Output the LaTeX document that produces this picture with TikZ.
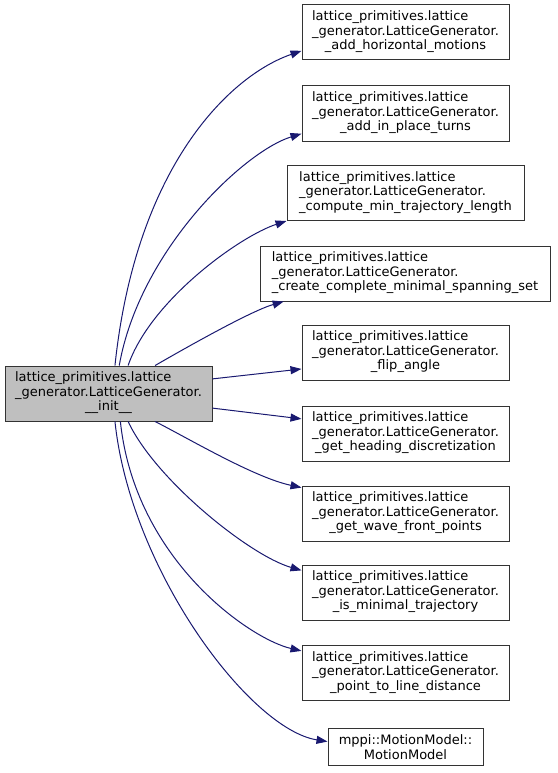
\documentclass[tikz,border=0pt]{standalone}
\usepackage{fontspec}
\setmainfont{DejaVu Sans}
\usetikzlibrary{arrows.meta}
\definecolor{edgeblue}{HTML}{191970}
\definecolor{boxgray}{HTML}{BFBFBF}
% two left lines, last line centred
\newcommand{\fnlab}[3]{\begin{tabular}{@{}l@{}}#1\\#2\\\multicolumn{1}{@{}c@{}}{#3}\end{tabular}}

\begin{document}
\begin{tikzpicture}[x=1pt, y=1pt,
  fn/.style={draw=black!80, line width=1pt, fill=white, inner xsep=4pt, inner ysep=5.75pt,
    minimum width=#1, font=\fontsize{13}{14.5}\selectfont},
  call/.style={edgeblue, line width=1pt, -{Triangle[length=11pt, width=8pt]}}]
  \useasboundingbox (0,0) rectangle (557,-773);
  % Caller
  \node[fn=207, fill=boxgray] (src) at (108.5,-393.5)
    {\fnlab{lattice\_primitives.lattice}{\_generator.LatticeGenerator.}{\_\_init\_\_}};
  % Callees
  \node[fn=207] (hmot) at (405.5,-32.5)
    {\fnlab{lattice\_primitives.lattice}{\_generator.LatticeGenerator.}{\_add\_horizontal\_motions}};
  \node[fn=207] (turns) at (405.5,-113.5)
    {\fnlab{lattice\_primitives.lattice}{\_generator.LatticeGenerator.}{\_add\_in\_place\_turns}};
  \node[fn=237] (minlen) at (405.5,-193)
    {\fnlab{lattice\_primitives.lattice}{\_generator.LatticeGenerator.}{\_compute\_min\_trajectory\_length}};
  \node[fn=290] (spanset) at (405,-273.5)
    {\fnlab{lattice\_primitives.lattice}{\_generator.LatticeGenerator.}{\_create\_complete\_minimal\_spanning\_set}};
  \node[fn=207] (flip) at (405.5,-352.5)
    {\fnlab{lattice\_primitives.lattice}{\_generator.LatticeGenerator.}{\_flip\_angle}};
  \node[fn=207] (heading) at (405.5,-433.5)
    {\fnlab{lattice\_primitives.lattice}{\_generator.LatticeGenerator.}{\_get\_heading\_discretization}};
  \node[fn=207] (wave) at (405.5,-513.5)
    {\fnlab{lattice\_primitives.lattice}{\_generator.LatticeGenerator.}{\_get\_wave\_front\_points}};
  \node[fn=207] (minimal) at (405.5,-592.5)
    {\fnlab{lattice\_primitives.lattice}{\_generator.LatticeGenerator.}{\_is\_minimal\_trajectory}};
  \node[fn=207] (ptline) at (405.5,-673)
    {\fnlab{lattice\_primitives.lattice}{\_generator.LatticeGenerator.}{\_point\_to\_line\_distance}};
  \node[fn=155, align=center] (mmodel) at (405.5,-747) {mppi::MotionModel::\\MotionModel};
  % Calls
  \draw[call] (src.77) .. controls +(84:200) and +(199:76) .. (hmot.190);
  \draw[call] (src.69) .. controls +(80:117) and +(197:60) .. (turns.191);
  \draw[call] (src.55) .. controls +(71:69) and +(198:49) .. (minlen.south west);
  \draw[call] (src.31) .. controls +(30:40) and +(196:33) .. (spanset.193);
  \draw[call] (src.8) -- (flip.189);
  \draw[call] (src.-8) -- (heading.172);
  \draw[call] (src.-31) .. controls +(-27:39) and +(168:48) .. (wave.166);
  \draw[call] (src.-55) .. controls +(-65:64) and +(164:54) .. (minimal.168);
  \draw[call] (src.-67) .. controls +(-84:139) and +(167:53) .. (ptline.168);
  \draw[call] (src.-77) .. controls +(-84:149) and +(171:79) .. (mmodel.176);
\end{tikzpicture}
\end{document}
